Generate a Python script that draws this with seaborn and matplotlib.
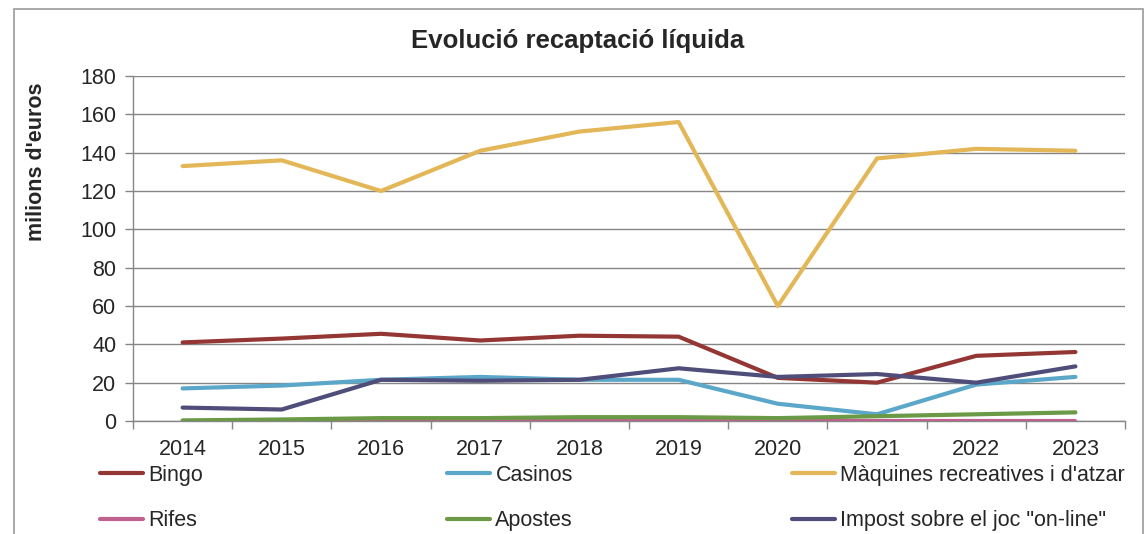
import numpy as np
import pandas as pd
import matplotlib
matplotlib.use("Agg")
import matplotlib.pyplot as plt
import seaborn as sns
from matplotlib.lines import Line2D
from matplotlib.patches import Rectangle
from matplotlib.ticker import FixedLocator, NullFormatter

sns.set_style("white")
plt.rcParams["font.family"] = ["Liberation Sans", "DejaVu Sans"]

# data (millions of euros)
years = ["2014", "2015", "2016", "2017", "2018", "2019", "2020", "2021", "2022", "2023"]
bingo = [41, 43, 45.5, 42, 44.5, 44, 22.5, 20, 34, 36]
casinos = [17, 18.5, 21.5, 23, 21.5, 21.5, 9, 3.5, 19, 23]
maquines = [133, 136, 120, 141, 151, 156, 60, 137, 142, 141]
rifes = [0.2, 0.2, 0.2, 0.2, 0.2, 0.2, 0.2, 0.2, 0.2, 0.2]
apostes = [0.3, 0.8, 1.5, 1.5, 2, 2, 1.5, 2.5, 3.5, 4.5]
impost = [7, 6, 21.5, 21, 21.5, 27.5, 23, 24.5, 20, 28.5]

series_names = ["Bingo", "Casinos", "Màquines recreatives i d'atzar",
                "Rifes", "Apostes", "Impost sobre el joc \"on-line\""]
series_vals = [bingo, casinos, maquines, rifes, apostes, impost]
colors = ["#943634", "#5BA7C9", "#E3B757", "#C0628E", "#6A9A45", "#4F4D7A"]

rows = []
for name, vals in zip(series_names, series_vals):
    for i, v in enumerate(vals):
        rows.append({"pos": i, "year": years[i], "serie": name, "value": v})
df = pd.DataFrame(rows)

fig = plt.figure(figsize=(11.47, 5.34), dpi=100)
ax = fig.add_axes([133/1147, 1 - 421/534, (1125 - 133)/1147, (421 - 76)/534])

pal = dict(zip(series_names, colors))
for name in series_names:
    sns.lineplot(data=df[df["serie"] == name], x="pos", y="value", color=pal[name],
                 linewidth=3, ax=ax, legend=False, zorder=3)

ax.set_xlim(-0.5, 9.5)
ax.set_ylim(0, 180)
ax.set_yticks(np.arange(0, 181, 20))
ax.set_xticks(range(len(years)))
ax.set_xticklabels(years)
ax.xaxis.set_minor_locator(FixedLocator(np.arange(-0.5, 10, 1)))
ax.xaxis.set_minor_formatter(NullFormatter())
ax.tick_params(axis="x", which="major", length=0, pad=13, labelsize=15.5)
ax.tick_params(axis="x", which="minor", length=6, width=1, color="#868686", bottom=True)
ax.tick_params(axis="y", length=6, width=1, color="#868686", left=True, pad=6, labelsize=15.5)
ax.grid(axis="y", color="#868686", linewidth=1, zorder=0)
ax.set_axisbelow(True)
for s in ["top", "right"]:
    ax.spines[s].set_visible(False)
for s in ["left", "bottom"]:
    ax.spines[s].set_color("#868686")
    ax.spines[s].set_linewidth(1)
ax.set_xlabel("")
ax.set_ylabel("")

fig.text(578/1147, 1 - 41/534, "Evolució recaptació líquida", ha="center", va="center",
         fontsize=18.5, fontweight="bold")
fig.text(37/1147, 1 - 162/534, "milions d'euros", ha="center", va="center",
         rotation=90, fontsize=15.5, fontweight="bold")

# legend: three columns of two entries
col_x = [100, 447, 792]
for c in range(3):
    idx = [c, c + 3]
    handles = [Line2D([0], [0], color=colors[i], linewidth=3) for i in idx]
    labels = [series_names[i] for i in idx]
    fig.legend(handles, labels, loc="upper left",
               bbox_to_anchor=(col_x[c]/1147, 1 - 465/534), frameon=False,
               fontsize=15.5, handlelength=2.0, handletextpad=0.25,
               labelspacing=1.12, borderpad=0, borderaxespad=0)

# outer chart border
fig.patches.append(Rectangle((14/1147, -0.05), (1143 - 14)/1147, 1.05 - 9/534,
                             transform=fig.transFigure, fill=False,
                             edgecolor="#9a9a9a", linewidth=1.2))

fig.savefig("out.png", dpi=100)
